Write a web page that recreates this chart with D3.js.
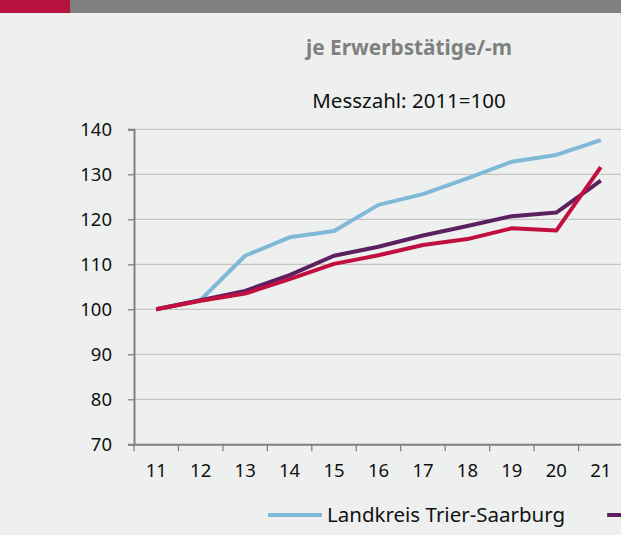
<!DOCTYPE html>
<html>
<head>
<meta charset="utf-8">
<script src="https://d3js.org/d3.v7.min.js"></script>
<style>
  body { margin: 0; background: #eef0ef; }
  svg { display: block; font-family: "Noto Sans", "Open Sans", sans-serif; }
</style>
</head>
<body>
<div id="chart"></div>
<script>
// years (x categories), shown as two digits
var years = ["11", "12", "13", "14", "15", "16", "17", "18", "19", "20", "21"]

// series values, index 2011 = 100
var trierSaarburg = [100, 102.1, 111.9, 116.0, 117.4, 123.2, 125.6, 129.1, 132.8, 134.3, 137.6]
var purpleSeries  = [100, 102.0, 104.1, 107.6, 111.9, 113.9, 116.4, 118.5, 120.7, 121.5, 128.6]
var redSeries     = [100, 101.9, 103.5, 106.7, 110.1, 112.0, 114.3, 115.6, 118.0, 117.5, 131.6]

var seriesNames = ["Landkreis Trier-Saarburg", "Rheinland-Pfalz", "Deutschland"]
var yTicks = [70, 80, 90, 100, 110, 120, 130, 140]

var W = 621, H = 535
var margin = {top: 129.3, left: 134, right: -2, bottom: 535 - 444.3}

var svg = d3.select("#chart").append("svg")
  .attr("width", W).attr("height", H)

svg.append("rect").attr("width", W).attr("height", H).attr("fill", "#eef0ef")

// header bar
svg.append("rect").attr("x", 0).attr("y", 0).attr("width", W).attr("height", 13).attr("fill", "#808080")
svg.append("rect").attr("x", 0).attr("y", 0).attr("width", 70).attr("height", 13).attr("fill", "#b8123f")

// titles
svg.append("text").attr("x", 409).attr("y", 55)
  .attr("text-anchor", "middle").attr("font-size", 20.8).attr("font-weight", "bold")
  .attr("fill", "#808080").text("je Erwerbstätige/-m")
svg.append("text").attr("x", 409).attr("y", 108)
  .attr("text-anchor", "middle").attr("font-size", 20.5)
  .attr("fill", "#111").text("Messzahl: 2011=100")

var x = d3.scaleBand().domain(years).range([margin.left, W - margin.right])
var y = d3.scaleLinear().domain([70, 140]).range([H - margin.bottom, margin.top])

// grid lines
svg.append("g").selectAll("line")
  .data(yTicks.filter(function(d) { return d > 70 }))
  .join("line")
  .attr("x1", margin.left).attr("x2", W)
  .attr("y1", function(d) { return y(d) }).attr("y2", function(d) { return y(d) })
  .attr("stroke", "#c4c4c4").attr("stroke-width", 1.3)

// y axis
var yAxis = svg.append("g")
  .attr("transform", "translate(" + margin.left + ",0)")
  .call(d3.axisLeft(y).tickValues(yTicks).tickSize(6).tickPadding(16))
yAxis.select(".domain").attr("stroke", "#808080").attr("stroke-width", 2)
yAxis.selectAll(".tick line").attr("stroke", "#808080").attr("stroke-width", 1.3)
yAxis.selectAll("text").attr("font-size", 18.5).attr("fill", "#111")
  .attr("font-family", "Noto Sans, sans-serif")

// x axis, ticks sit between categories
var xAxis = svg.append("g")
  .attr("transform", "translate(0," + y(70) + ")")
  .call(d3.axisBottom(x).tickSize(0).tickPadding(20))
xAxis.select(".domain").attr("stroke", "#808080").attr("stroke-width", 2)
xAxis.selectAll("text").attr("font-size", 18.5).attr("fill", "#111")
  .attr("font-family", "Noto Sans, sans-serif")
xAxis.selectAll(".sep").data(years).join("line")
  .attr("class", "sep")
  .attr("x1", function(d) { return x(d) }).attr("x2", function(d) { return x(d) })
  .attr("y1", 0).attr("y2", 7)
  .attr("stroke", "#808080").attr("stroke-width", 1.3)

// lines
var line = d3.line()
  .x(function(d, i) { return x(years[i]) + x.bandwidth() / 2 })
  .y(function(d) { return y(d) })

var series = [
  {name: seriesNames[0], values: trierSaarburg, color: "#80b9d7"},
  {name: seriesNames[1], values: purpleSeries, color: "#5c1f60"},
  {name: seriesNames[2], values: redSeries, color: "#c1103f"}
]

svg.append("g").selectAll("path")
  .data(series)
  .join("path")
  .attr("d", function(d) { return line(d.values) })
  .attr("fill", "none")
  .attr("stroke", function(d) { return d.color })
  .attr("stroke-width", 4)
  .attr("stroke-linejoin", "round")

// legend, runs off the right edge like the original; stop once past the edge
var legend = svg.append("g").attr("transform", "translate(268,515)")
var lx = 0
for (var i = 0; i < series.length; i++) {
  var s = series[i]
  if (268 + lx > W) break
  var g = legend.append("g").attr("transform", "translate(" + lx + ",0)")
  g.append("line").attr("x1", 0).attr("x2", 54).attr("y1", 0).attr("y2", 0)
    .attr("stroke", s.color).attr("stroke-width", 4)
  if (268 + lx + 59 > W) break
  var t = g.append("text").attr("x", 59).attr("y", 7).attr("font-size", 20.5)
    .attr("fill", "#111").text(s.name)
  lx += 59 + t.node().getComputedTextLength() + 42
}
</script>
</body>
</html>
